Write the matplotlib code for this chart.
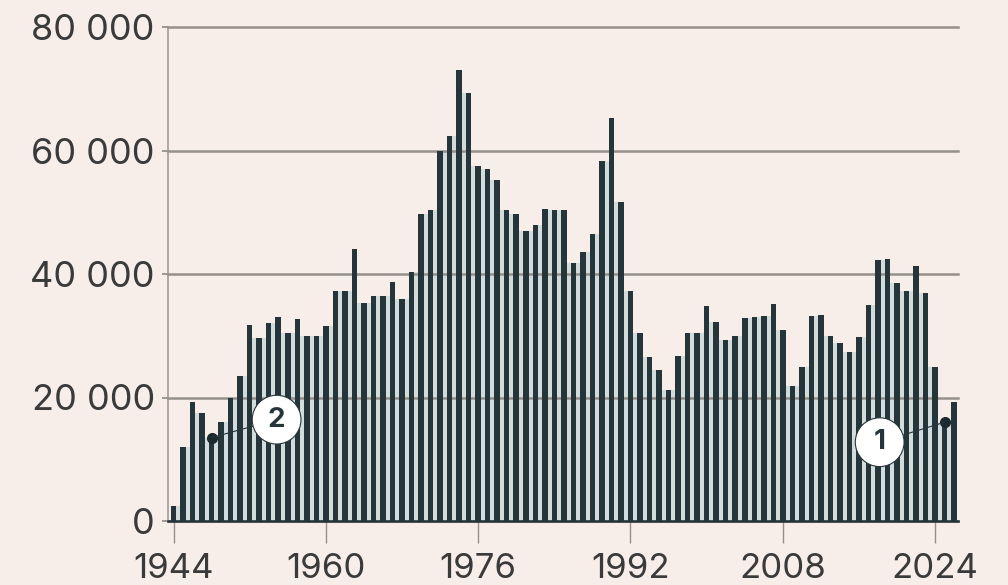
import numpy as np
import matplotlib
matplotlib.use("Agg")
import matplotlib.pyplot as plt

years = np.arange(1944, 2027)
values = np.array([
    2500, 12000, 19200, 17500, 13500, 16000, 20000, 23500, 31800, 29700,
    32100, 33000, 30500, 32700, 30000, 30000, 31500, 37300, 37300, 44000,
    35300, 36500, 36400, 38700, 36000, 40300, 49700, 50300, 60000, 62300,
    73000, 69300, 57500, 57000, 55200, 50300, 49700, 47000, 47900, 50500,
    50300, 50300, 41800, 43500, 46500, 58300, 65300, 51700, 37300, 30400,
    26500, 24400, 21200, 26800, 30400, 30400, 34800, 32200, 29300, 29900,
    32900, 33000, 33200, 35100, 31000, 21900, 24900, 33200, 33400, 30000,
    28900, 27300, 29800, 35000, 42300, 42400, 38500, 37200, 41300, 36900,
    25000, 16000, 19300,
])
y_ticks = [0, 20000, 40000, 60000, 80000]
y_labels = ["0", "20 000", "40 000", "60 000", "80 000"]
x_ticks = [1944, 1960, 1976, 1992, 2008, 2024]

bg = "#f8eee9"
bar_col = "#263539"
grid_col = "#96908a"
text_col = "#3a3a3a"

plt.rcParams["font.family"] = ["Inter", "DejaVu Sans"]

W, H = 1008, 585
fig = plt.figure(figsize=(W / 100, H / 100), dpi=100, facecolor=bg)
ax = fig.add_axes([168 / W, 1 - 521 / H, 790 / W, 494 / H], facecolor=bg)

# pale gaps between the bars, up to the lower neighbour
gap = np.minimum(values[:-1], values[1:])
ax.bar(years[:-1] + 0.5, gap, width=0.46, color="#d3dcdc", zorder=1)
ax.bar(years, values, width=0.58, color=bar_col, zorder=3)

ax.set_xlim(1943.42, 2026.4)
ax.set_ylim(0, 80000)
ax.set_yticks(y_ticks, y_labels)
ax.set_xticks(x_ticks)
ax.grid(axis="y", color=grid_col, lw=1.8, zorder=2)
ax.set_axisbelow(False)
for gl in ax.get_ygridlines():
    gl.set_zorder(2)
    gl.set_clip_on(False)

for s in ["top", "right"]:
    ax.spines[s].set_visible(False)
ax.spines["left"].set_color("#aaa39d")
ax.spines["left"].set_linewidth(1.3)
ax.spines["bottom"].set_color(bar_col)
ax.spines["bottom"].set_linewidth(1.8)
ax.spines["bottom"].set_zorder(4)

ax.tick_params(axis="y", length=4.5, width=1.3, color=grid_col, labelsize=26,
               labelcolor=text_col, pad=5)
ax.tick_params(axis="x", length=16, width=1, color=grid_col, labelsize=25,
               labelcolor=text_col, pad=7)

# numbered callouts
for yr, val, label, off in [(1948, 13500, "2", (65, 18)), (2025, 16000, "1", (-65, -20))]:
    ax.plot([yr], [val], "o", ms=7, color="#1b2a2e", zorder=6, clip_on=False)
    ax.annotate(label, xy=(yr, val), xytext=off, textcoords="offset pixels",
                ha="center", va="center", fontsize=20, fontweight="bold",
                color=bar_col, zorder=7,
                bbox=dict(boxstyle="circle,pad=0.41", fc="white", ec=bar_col, lw=0.8),
                arrowprops=dict(arrowstyle="-", color=bar_col, lw=0.8,
                                shrinkA=0, shrinkB=0))

fig.savefig("out.png", dpi=100, facecolor=bg)
